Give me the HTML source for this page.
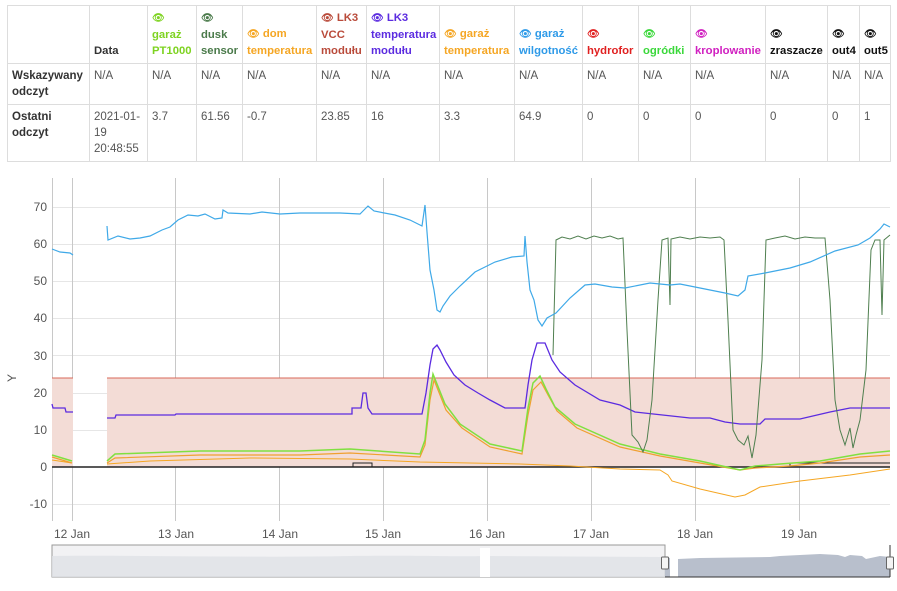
<!DOCTYPE html>
<html><head><meta charset="utf-8"><style>
body{margin:0;width:897px;height:591px;background:#fff;font-family:"Liberation Sans",Arial,sans-serif;font-size:12px;color:#333;overflow:hidden;position:relative}
table{position:absolute;left:7px;top:5px;border-collapse:collapse;table-layout:fixed;width:883px}
td{border:1px solid #ddd;padding:4px 1px 4px 4px;line-height:16px;vertical-align:top;font-size:11.5px;color:#555;overflow:visible}
tr.h td{vertical-align:bottom;font-weight:bold;height:47px;font-size:11.3px}
tr.r1 td{height:32px}
tr.r2 td{height:48px}
td.lab{font-weight:bold;color:#333}
.e{font-size:10px}
.n{white-space:nowrap}
</style></head><body>
<table>
<colgroup><col style="width:82px"><col style="width:58px"><col style="width:49px"><col style="width:46px"><col style="width:74px"><col style="width:50px"><col style="width:73px"><col style="width:75px"><col style="width:68px"><col style="width:56px"><col style="width:52px"><col style="width:75px"><col style="width:62px"><col style="width:32px"><col style="width:31px"></colgroup>
<tr class="h"><td></td><td style="color:#333">Data</td>
<td style="color:#7ed321"><span class="e">👁</span><br>garaż PT1000</td>
<td style="color:#4a7a4a"><span class="e">👁</span><br>dusk sensor</td>
<td style="color:#f5a623"><span class="e">👁</span> dom <span class="n">temperatura</span></td>
<td style="color:#b94a3a"><span class="e">👁</span> LK3 VCC modułu</td>
<td style="color:#5b2be0"><span class="e">👁</span> LK3 <span class="n">temperatura</span> modułu</td>
<td style="color:#f5a623"><span class="e">👁</span> garaż <span class="n">temperatura</span></td>
<td style="color:#2e9ae8"><span class="e">👁</span> garaż <span class="n">wilgotność</span></td>
<td style="color:#e02020"><span class="e">👁</span><br>hydrofor</td>
<td style="color:#3ad83a"><span class="e">👁</span><br>ogródki</td>
<td style="color:#d020c0"><span class="e">👁</span><br>kroplowanie</td>
<td style="color:#111"><span class="e">👁</span><br>zraszacze</td>
<td style="color:#111"><span class="e">👁</span><br>out4</td>
<td style="color:#111"><span class="e">👁</span><br><span class="n">out5</span></td></tr>
<tr class="r1"><td class="lab">Wskazywany odczyt</td><td>N/A</td><td>N/A</td><td>N/A</td><td>N/A</td><td>N/A</td><td>N/A</td><td>N/A</td><td>N/A</td><td>N/A</td><td>N/A</td><td>N/A</td><td>N/A</td><td>N/A</td><td>N/A</td></tr>
<tr class="r2"><td class="lab">Ostatni odczyt</td><td><span class="n">2021-01-</span><br>19<br>20:48:55</td><td>3.7</td><td>61.56</td><td>-0.7</td><td>23.85</td><td>16</td><td>3.3</td><td>64.9</td><td>0</td><td>0</td><td>0</td><td>0</td><td>0</td><td>1</td></tr>
</table>
<svg width="897" height="591" style="position:absolute;left:0;top:0" font-family="Liberation Sans,Arial,sans-serif" font-size="12">
<g stroke="#e6e6e6" stroke-width="1">
<line x1="52" x2="890" y1="207.5" y2="207.5"/><line x1="52" x2="890" y1="244.5" y2="244.5"/><line x1="52" x2="890" y1="281.5" y2="281.5"/><line x1="52" x2="890" y1="318.5" y2="318.5"/><line x1="52" x2="890" y1="355.5" y2="355.5"/><line x1="52" x2="890" y1="393.5" y2="393.5"/><line x1="52" x2="890" y1="430.5" y2="430.5"/><line x1="52" x2="890" y1="504.5" y2="504.5"/>
</g>
<g stroke="#c8c8c8" stroke-width="1">
<line x1="72.5" x2="72.5" y1="178" y2="521"/><line x1="175.5" x2="175.5" y1="178" y2="521"/><line x1="279.5" x2="279.5" y1="178" y2="521"/><line x1="383.5" x2="383.5" y1="178" y2="521"/><line x1="487.5" x2="487.5" y1="178" y2="521"/><line x1="591.5" x2="591.5" y1="178" y2="521"/><line x1="695.5" x2="695.5" y1="178" y2="521"/><line x1="799.5" x2="799.5" y1="178" y2="521"/>
<line x1="52.5" x2="52.5" y1="178" y2="521"/>
</g>
<g fill="#555" text-anchor="end">
<text x="47" y="211">70</text><text x="47" y="248">60</text><text x="47" y="285">50</text><text x="47" y="322">40</text><text x="47" y="360">30</text><text x="47" y="397">20</text><text x="47" y="434">10</text><text x="47" y="471">0</text><text x="47" y="508">-10</text>
</g>
<text x="16" y="378" fill="#555" transform="rotate(-90 16 378)" text-anchor="middle">Y</text>
<g fill="#555" text-anchor="middle">
<text x="72" y="538">12 Jan</text><text x="176" y="538">13 Jan</text><text x="280" y="538">14 Jan</text><text x="383" y="538">15 Jan</text><text x="487" y="538">16 Jan</text><text x="591" y="538">17 Jan</text><text x="695" y="538">18 Jan</text><text x="799" y="538">19 Jan</text>
</g>
<rect x="52" y="378" width="21" height="89" fill="#f3dcd6"/>
<rect x="107" y="378" width="783" height="89" fill="#f3dcd6"/>
<line x1="52" x2="73" y1="378" y2="378" stroke="#d9695a"/>
<line x1="107" x2="890" y1="378" y2="378" stroke="#d9695a"/>
<line x1="52" x2="890" y1="467" y2="467" stroke="#222" stroke-width="1.5"/>
<polyline fill="none" stroke="#222" stroke-width="1" points="353,467 353,463 372,463 372,467"/>
<polyline fill="none" stroke="#222" stroke-width="1" points="790,467 790,463 890,463"/>
<polyline fill="none" stroke="#f5a623" stroke-width="1" points="52,460 72,463"/>
<polyline fill="none" stroke="#f5a623" stroke-width="1" points="107,464 150,461 250,458 350,459 420,462 470,463 520,464 570,466 620,469 660,470 668,475 672,481 700,489 735,497 745,495 760,487 800,481 850,475 890,469"/>
<polyline fill="none" stroke="#f0a030" stroke-width="1.2" points="52,457 72,463"/>
<polyline fill="none" stroke="#f0a030" stroke-width="1.2" points="107,463 115,458 200,455 300,455 350,453 420,457 425,445 430,400 434,380 438,390 446,410 462,428 490,447 522,454 528,415 533,390 541,382 548,395 557,411 577,428 620,447 660,456 700,463 740,470 755,468 790,466 820,463 860,457 890,455"/>
<polyline fill="none" stroke="#80e040" stroke-width="1.5" points="52,455 72,461"/>
<polyline fill="none" stroke="#80e040" stroke-width="1.5" points="107,461 115,454 200,451 300,451 350,449 420,454 425,440 430,393 433,374 437,384 445,404 460,424 490,444 522,451 528,408 533,383 540,376 546,389 555,407 575,424 620,444 660,454 700,461 740,470 755,466 780,464 820,461 860,454 890,451"/>
<polyline fill="none" stroke="#5b2be0" stroke-width="1.3" points="52,404 53,408 65,408 66,412 73,412"/>
<polyline fill="none" stroke="#5b2be0" stroke-width="1.3" points="107,418 115,418 116,415 175,415 176,414 352,414 352,408 361,408 363,393 366,393 368,408 372,414 422,414 426,393 430,365 433,349 437,345 440,350 446,362 454,375 465,385 478,393 490,400 505,408 525,408 528,385 532,360 537,343 545,343 552,360 560,372 575,385 600,400 620,405 635,412 690,418 710,418 725,422 740,424 760,424 765,419 800,419 830,412 850,408 890,408"/>
<polyline fill="none" stroke="#4f7f4f" stroke-width="1" points="553,355 556,240 562,237 570,239 578,236 586,239 594,236 602,238 610,236 618,239 623,238 627,330 632,435 638,442 643,452 647,440 652,400 658,300 662,240 668,238 670,305 671,239 680,237 690,239 700,237 710,238 720,237 724,240 728,320 733,430 738,440 744,445 748,436 752,458 756,435 762,360 766,240 775,238 785,236 795,239 805,237 815,238 825,238 830,300 835,400 840,430 845,445 850,428 853,448 856,435 860,420 866,370 871,250 875,240 880,240 882,315 884,240 890,235"/>
<polyline fill="none" stroke="#3fa9e8" stroke-width="1.2" points="52,249 60,252 70,253 73,255"/>
<polyline fill="none" stroke="#3fa9e8" stroke-width="1.2" points="107,226 108,240 118,236 130,239 140,238 150,236 162,230 170,227 178,220 188,215 198,216 205,214 215,219 222,218 223,210 228,213 250,214 262,212 280,214 300,213 340,213 360,214 364,210 368,206 374,211 395,215 410,220 418,224 422,226 424,212 425,205 427,232 430,270 434,290 437,310 440,312 443,306 450,296 460,286 475,272 495,262 512,257 524,256 525,236 527,262 530,290 534,300 538,320 542,326 547,318 556,313 570,298 585,285 595,284 612,287 625,288 650,283 670,285 680,284 700,288 725,293 738,296 745,290 748,276 765,273 790,268 810,262 835,251 858,245 870,238 880,229 884,224 890,227"/>
<rect x="52" y="545" width="613" height="32" fill="#f2f2f4" stroke="#999" stroke-width="1"/>
<path d="M52,556 C150,555 250,558 350,556 C420,555 470,557 480,556 L480,577 L52,577Z" fill="#dfe1e6" opacity="0.8"/>
<rect x="480" y="548" width="10" height="29" fill="#fff"/>
<path d="M490,556 L665,557 L665,577 L490,577Z" fill="#dfe1e6" opacity="0.8"/>
<path d="M678,559 L700,558 L770,557 L780,556 L800,555 L820,554 L838,555 L845,557 L850,555 L862,556 L866,559 L880,556 L890,557 L890,577 L678,577Z" fill="#b8bfcc"/>
<path d="M665,557 L670,558 L670,577 L665,577Z" fill="#b8bfcc"/>
<line x1="665" x2="890" y1="577" y2="577" stroke="#333"/>
<line x1="890" x2="890" y1="545" y2="577" stroke="#333"/>
<rect x="661.5" y="557" width="7" height="12" rx="1" fill="#f4f4f4" stroke="#666"/>
<rect x="886.5" y="557" width="7" height="12" rx="1" fill="#f4f4f4" stroke="#666"/>
</svg>
</body></html>
